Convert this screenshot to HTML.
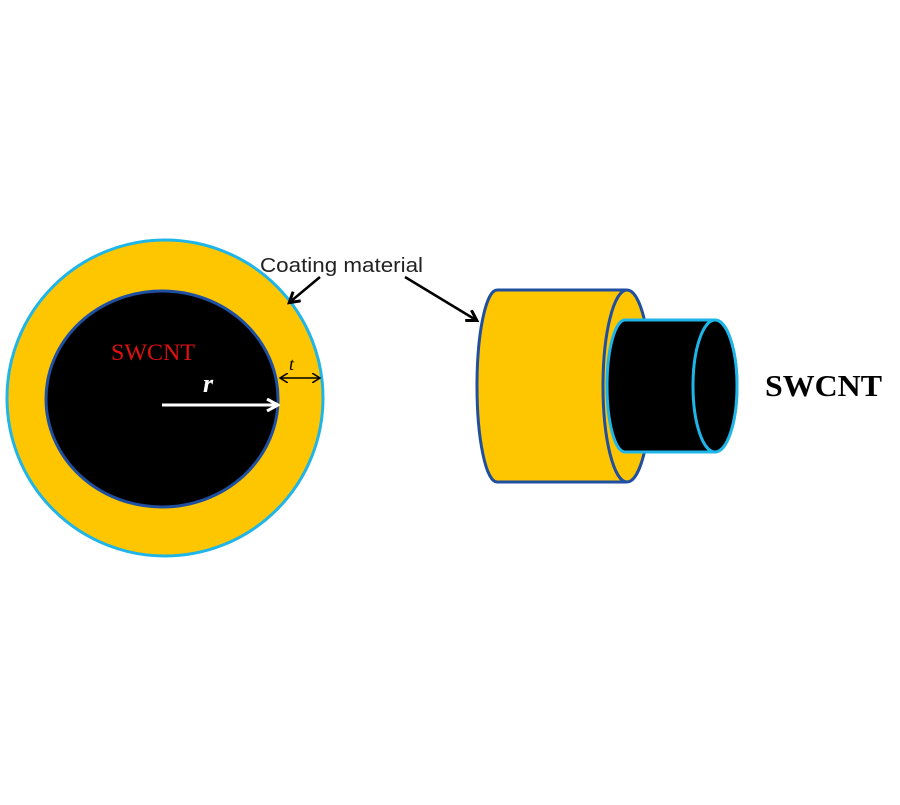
<!DOCTYPE html>
<html><head><meta charset="utf-8"><style>html,body{margin:0;padding:0;background:#fff}</style></head>
<body>
<svg width="900" height="800" xmlns="http://www.w3.org/2000/svg">
<defs>
<marker id="ab" markerWidth="14" markerHeight="14" refX="10" refY="7" orient="auto" markerUnits="userSpaceOnUse"><path d="M1,1 L11,7 L1,13" fill="none" stroke="#000" stroke-width="3"/></marker>
<marker id="aw" markerWidth="14" markerHeight="14" refX="11" refY="7" orient="auto" markerUnits="userSpaceOnUse"><path d="M1,1 L12,7 L1,13" fill="none" stroke="#fff" stroke-width="3"/></marker>
<marker id="at" markerWidth="10" markerHeight="10" refX="8" refY="5" orient="auto-start-reverse" markerUnits="userSpaceOnUse"><path d="M0,0 L8,5 L0,10" fill="none" stroke="#000" stroke-width="1.5"/></marker>
</defs>
<circle cx="165" cy="398" r="158" fill="#fec600" stroke="#1fb5e8" stroke-width="3"/>
<ellipse cx="162" cy="399" rx="116" ry="108" fill="#000" stroke="#1f4fa0" stroke-width="3"/>
<text x="111" y="360" font-family="Liberation Serif, serif" font-size="23" fill="#e01010" textLength="84" lengthAdjust="spacingAndGlyphs">SWCNT</text>
<text x="203" y="392" font-family="Liberation Serif, serif" font-size="26" font-style="italic" font-weight="bold" fill="#fff">r</text>
<line x1="162" y1="405" x2="277" y2="405" stroke="#fff" stroke-width="3" marker-end="url(#aw)"/>
<line x1="280" y1="378" x2="320" y2="378" stroke="#000" stroke-width="1.5" marker-start="url(#at)" marker-end="url(#at)"/>
<text x="289" y="370" font-family="Liberation Serif, serif" font-size="18" font-style="italic" fill="#000">t</text>
<text x="260" y="272" font-family="Liberation Sans, sans-serif" font-size="20" fill="#222" textLength="163" lengthAdjust="spacingAndGlyphs">Coating material</text>
<line x1="320" y1="277" x2="290" y2="302" stroke="#000" stroke-width="2.5" marker-end="url(#ab)"/>
<line x1="405" y1="277" x2="476" y2="320" stroke="#000" stroke-width="2.5" marker-end="url(#ab)"/>
<path d="M497,290 L627,290 A24,96 0 0 1 627,482 L497,482 A20,96 0 0 1 497,290 Z" fill="#fec600" stroke="#1f4fa0" stroke-width="3"/>
<path d="M627,290 A24,96 0 0 0 627,482" fill="none" stroke="#1f4fa0" stroke-width="3"/>
<path d="M625,320 L715,320 A22,66 0 0 1 715,452 L625,452 A18,66 0 0 1 625,320 Z" fill="#000" stroke="#1fb5e8" stroke-width="3"/>
<ellipse cx="715" cy="386" rx="22" ry="66" fill="#000" stroke="#1fb5e8" stroke-width="3"/>
<text x="765" y="396" font-family="Liberation Serif, serif" font-size="31" font-weight="bold" fill="#000" textLength="117" lengthAdjust="spacingAndGlyphs">SWCNT</text>
</svg>
</body></html>
